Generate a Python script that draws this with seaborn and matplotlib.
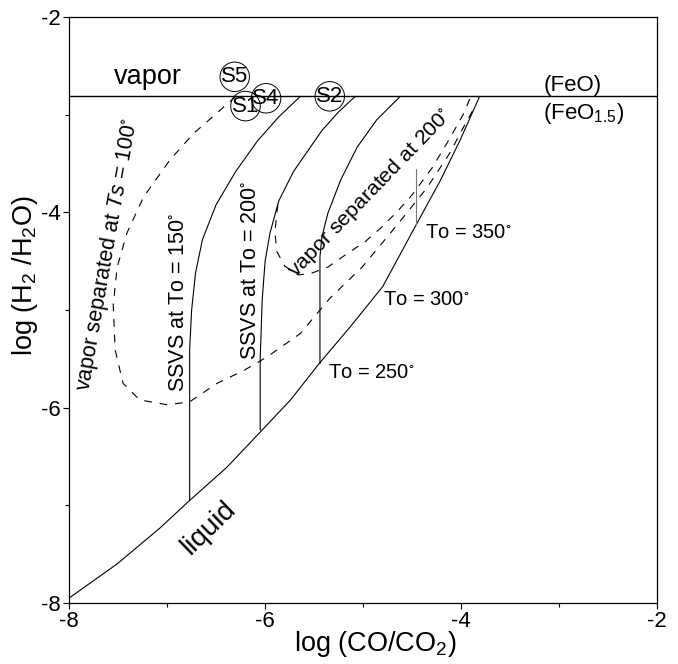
import matplotlib
matplotlib.use("Agg")
import matplotlib.pyplot as plt
import seaborn as sns

# ============================
# Data
# ============================

liquid_x = [-8.0, -7.51, -7.07, -6.77, -6.39, -6.05, -5.74, -5.45, -5.13, -4.80, -4.46, -4.21, -4.01, -3.81]
liquid_y = [-7.95, -7.60, -7.23, -6.95, -6.61, -6.25, -5.92, -5.55, -5.17, -4.76, -4.13, -3.67, -3.26, -2.81]

ssvs150_x = [-6.77, -6.77, -6.75, -6.71, -6.64, -6.50, -6.30, -6.08, -5.86, -5.64]
ssvs150_y = [-6.95, -5.40, -5.00, -4.62, -4.28, -3.92, -3.58, -3.27, -3.02, -2.81]

ssvs200_x = [-6.05, -6.05, -6.03, -6.00, -5.95, -5.86, -5.71, -5.42, -5.25, -5.08]
ssvs200_y = [-6.23, -5.50, -4.90, -4.50, -4.21, -3.88, -3.58, -3.16, -2.97, -2.81]

ssvs250_x = [-5.44, -5.44, -5.42, -5.36, -5.23, -5.06, -4.86, -4.62]
ssvs250_y = [-5.55, -4.45, -4.25, -4.01, -3.67, -3.33, -3.05, -2.81]

to350_x = [-4.46, -4.46]
to350_y = [-4.13, -3.55]

sep100_x = [-6.30, -6.49, -6.73, -6.97, -7.24, -7.41, -7.51, -7.55, -7.53, -7.45, -7.28, -7.00,
            -6.77, -6.49, -6.22, -5.98, -5.64, -5.34, -5.01, -4.72, -4.59, -4.35, -4.12, -3.95, -3.85]
sep100_y = [-2.81, -2.98, -3.19, -3.46, -3.84, -4.21, -4.56, -4.95, -5.41, -5.75, -5.92, -5.97,
            -5.94, -5.75, -5.62, -5.48, -5.24, -4.88, -4.56, -4.21, -4.05, -3.75, -3.40, -3.08, -2.90]

sep200_x = [-5.87, -5.90, -5.88, -5.80, -5.66, -5.52, -5.36, -5.16, -4.98, -4.81, -4.65, -4.50,
            -4.30, -4.12, -3.98, -3.90]
sep200_y = [-3.92, -4.20, -4.40, -4.55, -4.64, -4.62, -4.56, -4.42, -4.30, -4.15, -3.99, -3.82,
            -3.55, -3.25, -3.00, -2.81]

feo_boundary = -2.81

samples = ["S5", "S1", "S4", "S2"]
sample_x = [-6.31, -6.20, -5.99, -5.34]
sample_y = [-2.61, -2.91, -2.83, -2.81]

ticks = [-8, -6, -4, -2]

# ============================
# Style
# ============================

sns.set_style("ticks")
plt.rcParams["font.family"] = ["Liberation Sans", "DejaVu Sans"]
plt.rcParams["mathtext.fontset"] = "custom"
plt.rcParams["mathtext.rm"] = "Liberation Sans"
plt.rcParams["mathtext.it"] = "Liberation Sans:italic"
plt.rcParams["mathtext.default"] = "regular"
plt.rcParams["axes.unicode_minus"] = False
plt.rcParams["text.color"] = "black"
plt.rcParams["axes.labelcolor"] = "black"
plt.rcParams["xtick.color"] = "black"
plt.rcParams["ytick.color"] = "black"

fig = plt.figure(figsize=(6.78, 6.64), dpi=100)
ax = fig.add_axes([0.102, 0.092, 0.867, 0.882])

# ============================
# Curves
# ============================

lw = 0.8
solid = [(liquid_x, liquid_y), (ssvs150_x, ssvs150_y), (ssvs200_x, ssvs200_y),
         (ssvs250_x, ssvs250_y)]
for xs, ys in solid:
    sns.lineplot(x=xs, y=ys, sort=False, estimator=None, color="black", lw=lw, ax=ax)

sns.lineplot(x=to350_x, y=to350_y, sort=False, estimator=None, color="#777777", lw=lw, ax=ax)

for xs, ys in [(sep100_x, sep100_y), (sep200_x, sep200_y)]:
    sns.lineplot(x=xs, y=ys, sort=False, estimator=None, color="black", lw=lw,
                 linestyle=(0, (7, 7)), ax=ax)

ax.axhline(feo_boundary, color="black", lw=1.0)

# sample circles
for name, sx, sy in zip(samples, sample_x, sample_y):
    ax.text(sx, sy, name, fontsize=16, ha="center", va="center",
            bbox=dict(boxstyle="circle,pad=0.05", fc="none", ec="black", lw=0.7))

# ============================
# Labels
# ============================

deg = r"$^{\circ}$"
ax.text(-7.2, -2.61, "vapor", fontsize=19.5, ha="center", va="center")
ax.text(-3.16, -2.70, "(FeO)", fontsize=16, ha="left", va="center")
ax.text(-3.16, -2.99, "(FeO$_{1.5}$)", fontsize=16, ha="left", va="center")

ax.text(-7.61, -4.43, r"vapor separated at $\mathit{Ts}$ = 100" + deg, fontsize=15.5,
        rotation=80, ha="center", va="center", rotation_mode="anchor")
ax.text(-6.88, -4.92, "SSVS at To = 150" + deg, fontsize=15.5, rotation=90,
        ha="center", va="center")
ax.text(-6.15, -4.59, "SSVS at To = 200" + deg, fontsize=15.5, rotation=90,
        ha="center", va="center")
ax.text(-4.93, -3.80, "vapor separated at 200" + deg, fontsize=15.3, rotation=46,
        ha="center", va="center", rotation_mode="anchor")

ax.text(-4.37, -4.21, "To = 350" + deg, fontsize=14.5, ha="left", va="center")
ax.text(-4.80, -4.89, "To = 300" + deg, fontsize=14.5, ha="left", va="center")
ax.text(-5.36, -5.64, "To = 250" + deg, fontsize=14.5, ha="left", va="center")
ax.text(-6.58, -7.23, "liquid", fontsize=20, rotation=44, ha="center", va="center",
        rotation_mode="anchor")

# ============================
# Axes
# ============================

ax.set_xlim(-8, -2)
ax.set_ylim(-8, -2)
ax.set_xticks(ticks)
ax.set_yticks(ticks)
ax.set_xticks([-7, -5, -3], minor=True)
ax.set_yticks([-7, -5, -3], minor=True)
ax.tick_params(which="major", direction="out", length=4, width=0.8, labelsize=16, pad=2)
ax.tick_params(which="minor", direction="out", length=3, width=0.8)
for s in ax.spines.values():
    s.set_visible(True)
    s.set_linewidth(0.9)
    s.set_color("black")

ax.set_xlabel("log (CO/CO$_2$)", fontsize=19.5)
ax.set_ylabel("log (H$_2$ /H$_2$O)", fontsize=19.5)
ax.xaxis.set_label_coords(0.52, -0.045)
ax.yaxis.set_label_coords(-0.05, 0.558)

fig.savefig("out.png", dpi=100)
